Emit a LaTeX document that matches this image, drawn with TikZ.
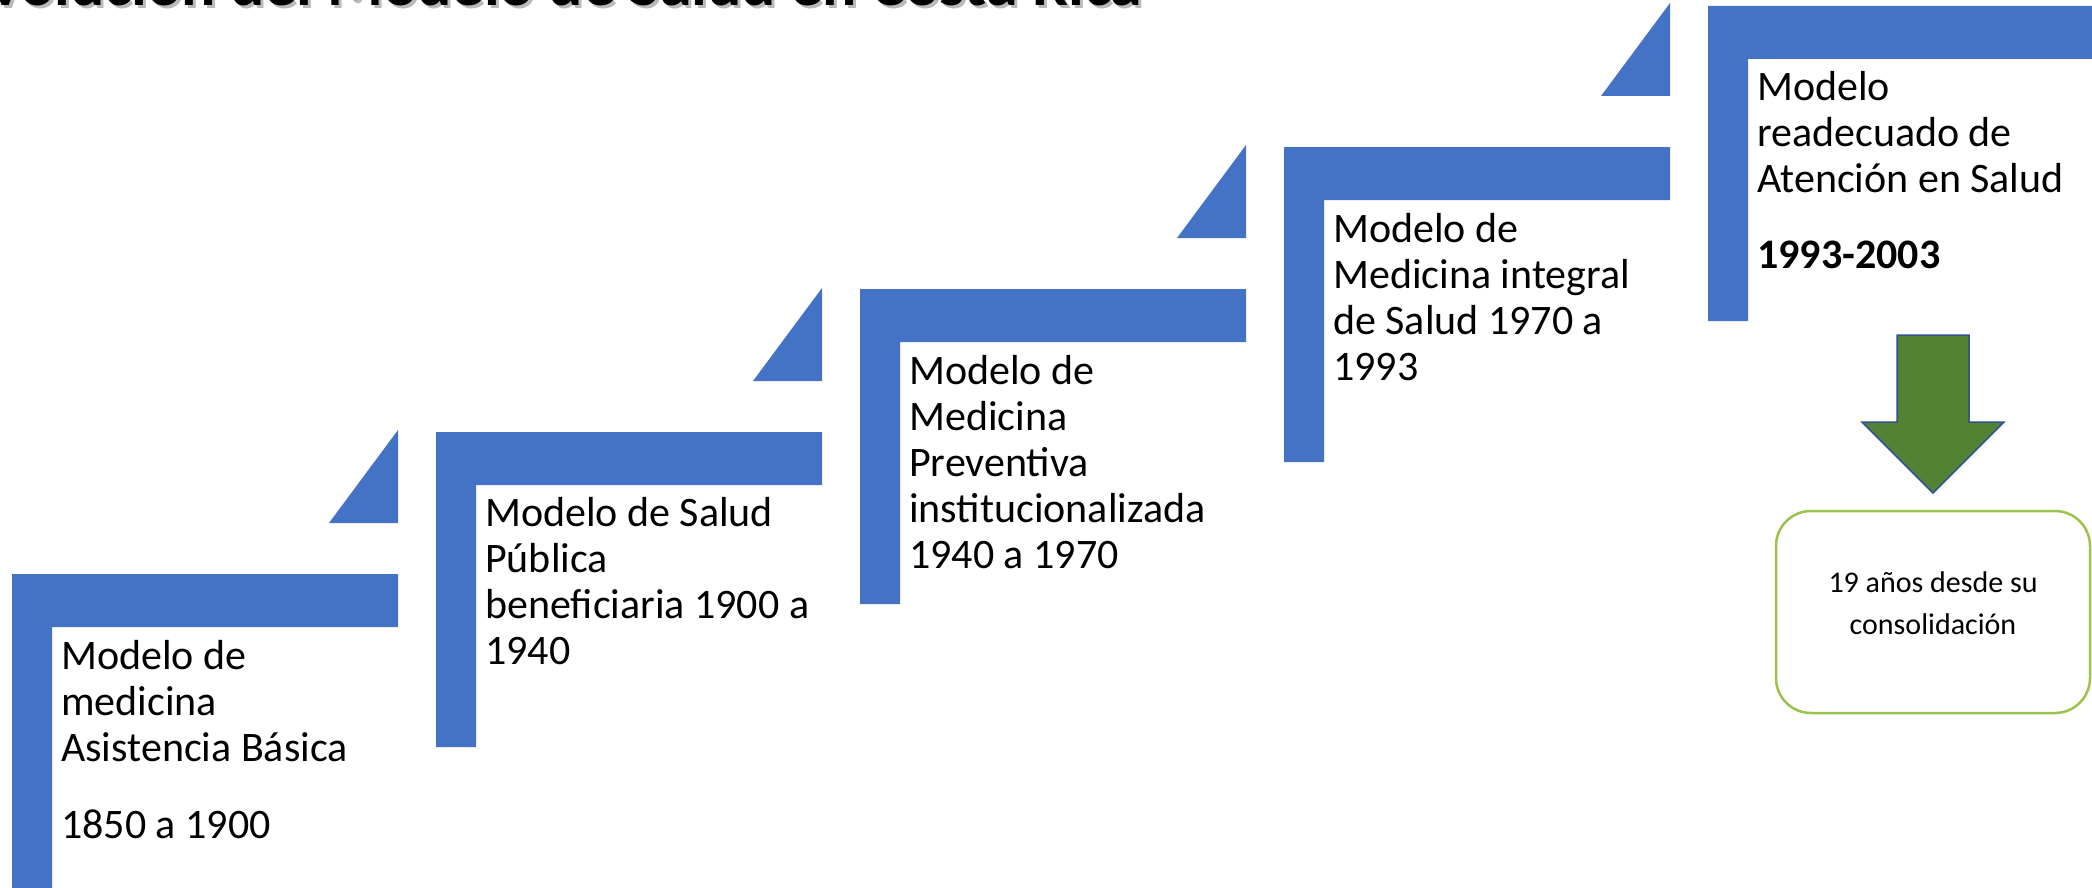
\documentclass[tikz,border=0pt]{standalone}
\usepackage{fontspec}
\setmainfont{Carlito}
\definecolor{stepblue}{HTML}{4472C4}
\definecolor{arrowgreen}{HTML}{548235}
\definecolor{arrowedge}{HTML}{2F528F}
\definecolor{boxgreen}{HTML}{9BC34B}
\tikzset{
  stepshape/.style={fill=stepblue},
  steptext/.style={anchor=base west, inner sep=0pt, align=left,
    font=\fontsize{42}{46}\selectfont},
  titletext/.style={anchor=base east, inner sep=0pt,
    font=\fontsize{64}{70}\selectfont\bfseries},
}
\begin{document}
\begin{tikzpicture}[x=1pt,y=-1pt]
\useasboundingbox (0,0) rectangle (2092,888);
\clip (0,0) rectangle (2092,888);
% title (mostly cut off at top, as in the reference)
\node[titletext, text=black!45, opacity=0.6] (titleshadow) at (1145,8.5) {Evolución del Modelo de Salud en Costa Rica};
\node[titletext] (title) at (1142,5.5) {Evolución del Modelo de Salud en Costa Rica};
% steps
\foreach \L/\T in {12/574, 436/432, 860/289, 1284/147, 1708/6} {
  \fill[stepshape] (\L,\T) -- ++(386,0) -- ++(0,53) -- ++(-346,0) -- ++(0,262) -- ++(-40,0) -- cycle;
}
% triangles
\foreach \R/\T in {398/574, 822/432, 1246/289, 1670/147} {
  \fill[stepshape] (\R,\T-144) -- (\R,\T-51) -- (\R-69,\T-51) -- cycle;
}
% texts (anchored at the baseline of the last line)
\node[steptext] (s1) at (61,838) {Modelo de\\ medicina\\ Asistencia Básica\\[31pt] 1850 a 1900};
\node[steptext] (s2) at (485,664) {Modelo de Salud\\ Pública\\ beneficiaria 1900 a\\ 1940};
\node[steptext] (s3) at (909,568) {Modelo de\\ Medicina\\ Preventiva\\ institucionalizada\\ 1940 a 1970};
\node[steptext] (s4) at (1333,380) {Modelo de\\ Medicina integral\\ de Salud 1970 a\\ 1993};
\node[steptext] (s5) at (1757,268) {Modelo\\ readecuado de\\ Atención en Salud\\[30pt] \textbf{1993-2003}};
% down arrow
\filldraw[fill=arrowgreen, draw=arrowedge, line width=1.5pt]
  (1897,335) -- (1969,335) -- (1969,422) -- (2004,422) -- (1933,493) -- (1862,422) -- (1897,422) -- cycle;
% result box
\node[draw=boxgreen, line width=2.5pt, rounded corners=35pt, minimum width=314pt, minimum height=202pt, inner sep=0pt] (box) at (1933,612) {};
\node[anchor=base, inner sep=0pt, align=center, font=\fontsize{30}{42}\selectfont] (boxtext) at (1933,634) {19 años desde su\\ consolidación};
\end{tikzpicture}
\end{document}
